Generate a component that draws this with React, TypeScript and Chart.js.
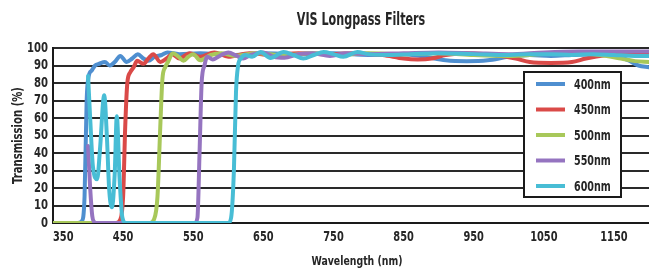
import { useEffect, useRef } from 'react';
import { Chart, registerables } from 'chart.js';

Chart.register(...registerables);

const TITLE = 'VIS Longpass Filters';
const X_TITLE = 'Wavelength (nm)';
const Y_TITLE = 'Transmission (%)';
const X_TICKS = [350, 450, 550, 650, 750, 850, 950, 1050, 1150];
const Y_TICKS = [0, 10, 20, 30, 40, 50, 60, 70, 80, 90, 100];

const SERIES_LABELS = ['400nm', '450nm', '500nm', '550nm', '600nm'];
const SERIES_COLORS = ['#4f8fd0', '#da4a48', '#a8c85a', '#9574c0', '#48bdd5'];

const wl400 = [350, 385, 391, 395, 398, 401, 405, 410, 416, 424, 431, 438, 446, 455, 463, 471, 479, 486, 495, 505, 513, 530, 560, 600, 650, 700, 750, 800, 850, 880, 910, 940, 970, 1000, 1030, 1060, 1090, 1120, 1150, 1170, 1185, 1200];
const t400 = [0, 0, 1, 15, 70, 84, 87, 90, 91, 92, 90, 92, 95.5, 92, 94, 96.5, 94, 92.7, 95, 96, 97.5, 96.5, 97, 96, 97, 96.5, 97, 96, 96.5, 95, 93, 92.5, 93, 95, 96, 95.5, 96, 96.5, 96, 93, 90, 89];

const wl450 = [350, 440, 446, 450, 453, 456, 460, 465, 470, 479, 486, 493, 503, 512, 520, 530, 545, 560, 580, 600, 630, 660, 700, 740, 780, 820, 850, 870, 890, 910, 940, 980, 1010, 1030, 1060, 1090, 1110, 1140, 1170, 1200];
const t450 = [0, 0, 2, 15, 55, 80, 86, 89, 92.7, 91, 94, 96.5, 92, 94, 96.5, 94, 97, 95, 97.5, 95, 97, 96, 97, 96.5, 97, 96, 94, 93.5, 94, 96, 97, 96, 94, 92, 91.5, 92, 94, 96, 97, 97];

const wl500 = [350, 488, 494, 499, 503, 506, 510, 514, 521, 529, 536, 543, 550, 560, 575, 590, 610, 640, 680, 720, 760, 800, 850, 900, 950, 1000, 1050, 1100, 1130, 1160, 1180, 1200];
const t500 = [0, 0, 2, 15, 55, 82, 89, 92, 97, 95, 92.7, 95, 96.5, 93, 96, 97, 95.5, 97, 96, 97, 96, 97, 96.5, 97, 96, 95.5, 96.5, 97, 96, 94, 92.5, 92];

const wl550 = [400, 403, 406, 409, 413, 552, 556, 559, 562, 566, 570, 578, 590, 600, 612, 621, 632, 650, 665, 680, 700, 720, 745, 770, 800, 850, 900, 950, 1000, 1050, 1100, 1150, 1200];
const t550 = [44, 20, 4, 0.5, 0, 0, 3, 40, 80, 90, 95, 93.5, 96, 97.5, 95.5, 94, 96, 97.5, 95, 94.5, 96.5, 97, 95.5, 97, 96.5, 97, 97.5, 97, 96.5, 97.5, 98, 98, 98];

const wl600 = [400, 403, 407, 413, 417, 423, 427, 430, 434, 438, 441, 445, 449, 454, 600, 604, 608, 611, 614, 618, 624, 634, 646, 660, 679, 693, 707, 722, 736, 750, 764, 784, 800, 830, 860, 900, 950, 1000, 1030, 1060, 1090, 1120, 1150, 1180, 1200];
const t600 = [84, 60, 32, 25, 42, 73, 48, 20, 9, 28, 61, 25, 3, 0, 0, 3, 30, 75, 90, 94, 96, 95, 97.7, 94.3, 97.7, 96, 94, 96, 97.7, 96.5, 95, 97.7, 96.5, 96, 96.5, 97, 96.5, 96, 96.5, 96.5, 96, 96.5, 96, 95.5, 95.5];

const WAVELENGTHS = [wl400, wl450, wl500, wl550, wl600];
const TRANSMISSIONS = [t400, t450, t500, t550, t600];

const FONT = "'DejaVu Sans Condensed', 'DejaVu Sans', sans-serif";
const TEXT_COLOR = '#262626';

function drawText(
  ctx: CanvasRenderingContext2D,
  text: string,
  x: number,
  y: number,
  size: number,
  sx: number,
  align: CanvasTextAlign,
) {
  ctx.save();
  ctx.font = `bold ${size}px ${FONT}`;
  ctx.textAlign = align;
  ctx.textBaseline = 'middle';
  ctx.fillStyle = TEXT_COLOR;
  ctx.translate(x, y);
  ctx.scale(sx, 1);
  ctx.fillText(text, 0, 0);
  ctx.restore();
}

const overlayPlugin = {
  id: 'overlay',
  beforeDraw(chart: any) {
    const ctx = chart.ctx;
    ctx.save();
    ctx.fillStyle = '#ffffff';
    ctx.fillRect(0, 0, chart.width, chart.height);
    ctx.restore();
  },
  afterDraw(chart: any) {
    const ctx: CanvasRenderingContext2D = chart.ctx;
    const area = chart.chartArea;
    const xs = chart.scales.x;
    const ys = chart.scales.y;

    drawText(ctx, TITLE, 361, 21, 17, 0.73, 'center');
    drawText(ctx, X_TITLE, 357, 262, 13, 0.8, 'center');

    ctx.save();
    ctx.translate(18, (area.top + area.bottom) / 2);
    ctx.rotate(-Math.PI / 2);
    drawText(ctx, Y_TITLE, 0, 0, 14, 0.8, 'center');
    ctx.restore();

    // y tick labels
    Y_TICKS.forEach((v) => {
      drawText(ctx, String(v), area.left - 5, ys.getPixelForValue(v), 14, 0.8, 'right');
    });
    // x tick labels
    ctx.save();
    ctx.font = `bold 14px ${FONT}`;
    X_TICKS.forEach((v) => {
      const w = ctx.measureText(String(v)).width * 0.78;
      let px = xs.getPixelForValue(v);
      if (px - w / 2 < area.left) px = area.left + w / 2;
      drawText(ctx, String(v), px, 237, 14, 0.78, 'center');
    });
    ctx.restore();

    // legend box
    const bx = 524, by = 72, bw = 97, bh = 125;
    ctx.save();
    ctx.fillStyle = '#ffffff';
    ctx.fillRect(bx, by, bw, bh);
    ctx.strokeStyle = '#1a1a1a';
    ctx.lineWidth = 2;
    ctx.strokeRect(bx, by, bw, bh);
    SERIES_LABELS.forEach((label, i) => {
      const y = 84 + i * 25.5;
      ctx.strokeStyle = SERIES_COLORS[i];
      ctx.lineWidth = 4;
      ctx.beginPath();
      ctx.moveTo(536, y);
      ctx.lineTo(565, y);
      ctx.stroke();
      drawText(ctx, label, 574, y + 1, 14, 0.76, 'left');
    });
    ctx.restore();
  },
};

export default function App() {
  const ref = useRef<HTMLCanvasElement | null>(null);

  useEffect(() => {
    if (!ref.current) return;
    const datasets = SERIES_LABELS.map((label, i) => ({
      label,
      data: WAVELENGTHS[i].map((x, j) => ({ x, y: TRANSMISSIONS[i][j] })),
      borderColor: SERIES_COLORS[i],
      backgroundColor: SERIES_COLORS[i],
      borderWidth: 4,
      pointRadius: 0,
      fill: false,
      cubicInterpolationMode: 'monotone' as const,
      borderCapStyle: 'round' as const,
      borderJoinStyle: 'round' as const,
      order: SERIES_LABELS.length - i,
    }));

    const chart = new Chart(ref.current, {
      type: 'line',
      data: { datasets },
      options: {
        animation: false,
        responsive: false,
        devicePixelRatio: 1,
        layout: { padding: { top: 48, left: 0, right: 0, bottom: 0 } },
        plugins: {
          legend: { display: false },
          title: { display: false },
          tooltip: { enabled: false },
        },
        scales: {
          x: {
            type: 'linear',
            min: 350,
            max: 1200,
            afterBuildTicks: (scale: any) => {
              scale.ticks = X_TICKS.map((v) => ({ value: v }));
            },
            afterFit: (scale: any) => {
              scale.height = 51;
            },
            grid: { display: false, drawTicks: false },
            border: { display: true, color: '#1a1a1a', width: 2 },
            ticks: { display: false },
          },
          y: {
            type: 'linear',
            min: 0,
            max: 100,
            afterBuildTicks: (scale: any) => {
              scale.ticks = Y_TICKS.map((v) => ({ value: v }));
            },
            afterFit: (scale: any) => {
              scale.width = 53;
            },
            grid: { color: '#2a2a2a', lineWidth: 2, drawTicks: false },
            border: { display: true, color: '#1a1a1a', width: 2 },
            ticks: { display: false },
          },
        },
      },
      plugins: [overlayPlugin],
    });
    return () => chart.destroy();
  }, []);

  return (
    <div style={{ position: 'fixed', left: 0, top: 0, width: 649, height: 274, background: '#fff' }}>
      <canvas ref={ref} width={649} height={274} style={{ display: 'block', width: 649, height: 274 }} />
    </div>
  );
}
